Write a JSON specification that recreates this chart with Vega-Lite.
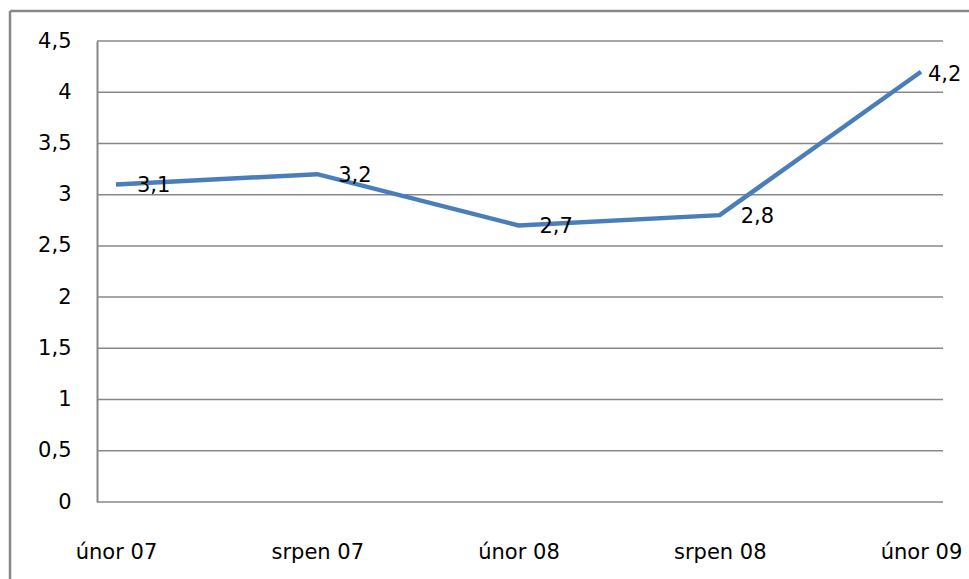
{
  "$schema": "https://vega.github.io/schema/vega-lite/v6.json",
  "autosize": {"type": "none"},
  "width": 959,
  "height": 568,
  "padding": {"left": 10, "top": 11, "right": 0, "bottom": 0},
  "background": "white",
  "config": {
    "locale": {"number": {"decimal": ",", "thousands": " ", "grouping": [3], "currency": ["", " Kč"]}},
    "view": {"stroke": "#888888", "strokeWidth": 2.5, "strokeDash": [959, 1527, 568, 0]},
    "font": "DejaVu Sans"
  },
  "datasets": {
    "series": [
      {"obdobi": "únor 07", "hodnota": 3.1},
      {"obdobi": "srpen 07", "hodnota": 3.2},
      {"obdobi": "únor 08", "hodnota": 2.7},
      {"obdobi": "srpen 08", "hodnota": 2.8},
      {"obdobi": "únor 09", "hodnota": 4.2}
    ],
    "grid": [
      {"g": 0}, {"g": 0.5}, {"g": 1}, {"g": 1.5}, {"g": 2}, {"g": 2.5}, {"g": 3}, {"g": 3.5}, {"g": 4}, {"g": 4.5}
    ]
  },
  "encoding": {
    "x": {
      "field": "obdobi", "type": "ordinal", "sort": null,
      "scale": {"type": "point", "domain": ["únor 07", "srpen 07", "únor 08", "srpen 08", "únor 09"], "range": [106, 911], "padding": 0},
      "axis": {"title": null, "orient": "bottom", "offset": -77, "domain": false, "ticks": false, "grid": false, "labelAngle": 0, "labelPadding": 39, "labelFontSize": 21, "labelColor": "#000000", "labelFont": "DejaVu Sans"}
    },
    "y": {
      "field": "hodnota", "type": "quantitative",
      "scale": {"domain": [0, 4.5], "range": [491, 30], "nice": false, "zero": true},
      "axis": {"title": null, "offset": -87, "values": [0, 0.5, 1, 1.5, 2, 2.5, 3, 3.5, 4, 4.5], "format": "~g", "domain": true, "domainColor": "#888888", "domainWidth": 2, "ticks": false, "grid": false, "labelPadding": 26, "labelFontSize": 21, "labelColor": "#000000", "labelFont": "DejaVu Sans"}
    }
  },
  "layer": [
    {
      "data": {"name": "grid"},
      "mark": {"type": "rule", "color": "#888888", "strokeWidth": 1.5, "xOffset": -19, "x2Offset": 22},
      "encoding": {
        "x": {"datum": "únor 07", "type": "ordinal"},
        "x2": {"datum": "únor 09"},
        "y": {"field": "g", "type": "quantitative"}
      }
    },
    {
      "data": {"name": "series"},
      "mark": {"type": "line", "color": "#4A7EBB", "strokeWidth": 4.5, "strokeJoin": "miter"}
    },
    {
      "data": {"name": "series"},
      "transform": [{"filter": "datum.hodnota < 4"}],
      "mark": {"type": "text", "align": "left", "baseline": "middle", "dx": 21, "dy": 2, "fontSize": 21, "color": "#000000"},
      "encoding": {
        "text": {"field": "hodnota", "type": "quantitative", "format": ".1f"}
      }
    },
    {
      "data": {"name": "series"},
      "transform": [{"filter": "datum.hodnota >= 4"}],
      "mark": {"type": "text", "align": "left", "baseline": "middle", "dx": 7, "dy": 3, "fontSize": 21, "color": "#000000"},
      "encoding": {
        "text": {"field": "hodnota", "type": "quantitative", "format": ".1f"}
      }
    }
  ]
}
